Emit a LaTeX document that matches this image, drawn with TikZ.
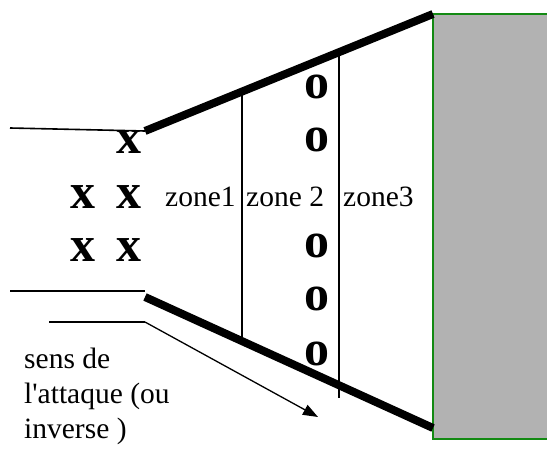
\documentclass[tikz,border=0pt]{standalone}
\usepackage{fontspec}
\setmainfont{Liberation Serif}
\usetikzlibrary{arrows.meta,positioning}
\definecolor{WallGray}{HTML}{B2B2B2}
\definecolor{WallGreen}{HTML}{138A13}

\begin{document}
\begin{tikzpicture}[x=1pt,y=-1pt,
    wall/.style={draw=WallGreen,fill=WallGray,line width=1.3pt},
    bank/.style={line width=8pt},
    rim/.style={line width=1.6pt},
    sep/.style={line width=2.4pt},
    lbl/.style={font=\fontsize{29.5}{34}\selectfont,inner sep=0pt,anchor=base west},
    mk/.style={font=\fontsize{50}{50}\selectfont\bfseries,inner sep=0pt},
    arr/.style={-{Triangle[length=15pt,width=11pt]},line width=1.3pt}
  ]
    \useasboundingbox (0,0) rectangle (547,452);
    \draw[wall] (433,14) rectangle (556,439);
    % funnel walls
    \coordinate (tl) at (145,131);
    \coordinate (tr) at (433,14);
    \coordinate (bl) at (145,297);
    \coordinate (br) at (433,428);
    \draw[bank] (tl) -- (tr);
    \draw[bank] (bl) -- (br);
    % entry lines
    \coordinate (ul) at (10,128);
    \coordinate (dl) at (10,291);
    \coordinate (dr) at (145,291);
    \coordinate (al) at (49,322);
    \coordinate (a0) at (145,322);
    \coordinate (at) at (318,417);
    \draw[rim] (ul) -- (tl);
    \draw[rim] (dl) -- (dr);
    \draw[sep] (al) -- (a0);
    \draw[arr] (a0) -- (at);
    % zone limits
    \coordinate (z1t) at (242,92);
    \coordinate (z1b) at (242,340);
    \coordinate (z2t) at (339,53);
    \coordinate (z2b) at (339,398);
    \draw[sep] (z1t) -- (z1b);
    \draw[sep] (z2t) -- (z2b);
    \node[lbl] (zn1) at (165,207) {zone1};
    \node[lbl] (zn2) at (246,207) {zone 2};
    \node[lbl] (zn3) at (343,207) {zone3};
    % attackers and defenders
    \node[mk] (x1) at (129,142) {x};
    \node[mk] (x2) at (83,197) {x};
    \node[mk] (x3) at (129,197) {x};
    \node[mk] (x4) at (83,250) {x};
    \node[mk] (x5) at (129,250) {x};
    \foreach \yy [count=\i] in {87,140,246,299,354}
      \node[mk] (o\i) at (317,\yy) {o};
    \node[lbl] (s1) at (24,368) {sens de};
    \node[lbl] (s2) at (24,403) {l\textquotesingle attaque (ou};
    \node[lbl] (s3) at (24,438) {inverse )};
  \end{tikzpicture}
\end{document}
